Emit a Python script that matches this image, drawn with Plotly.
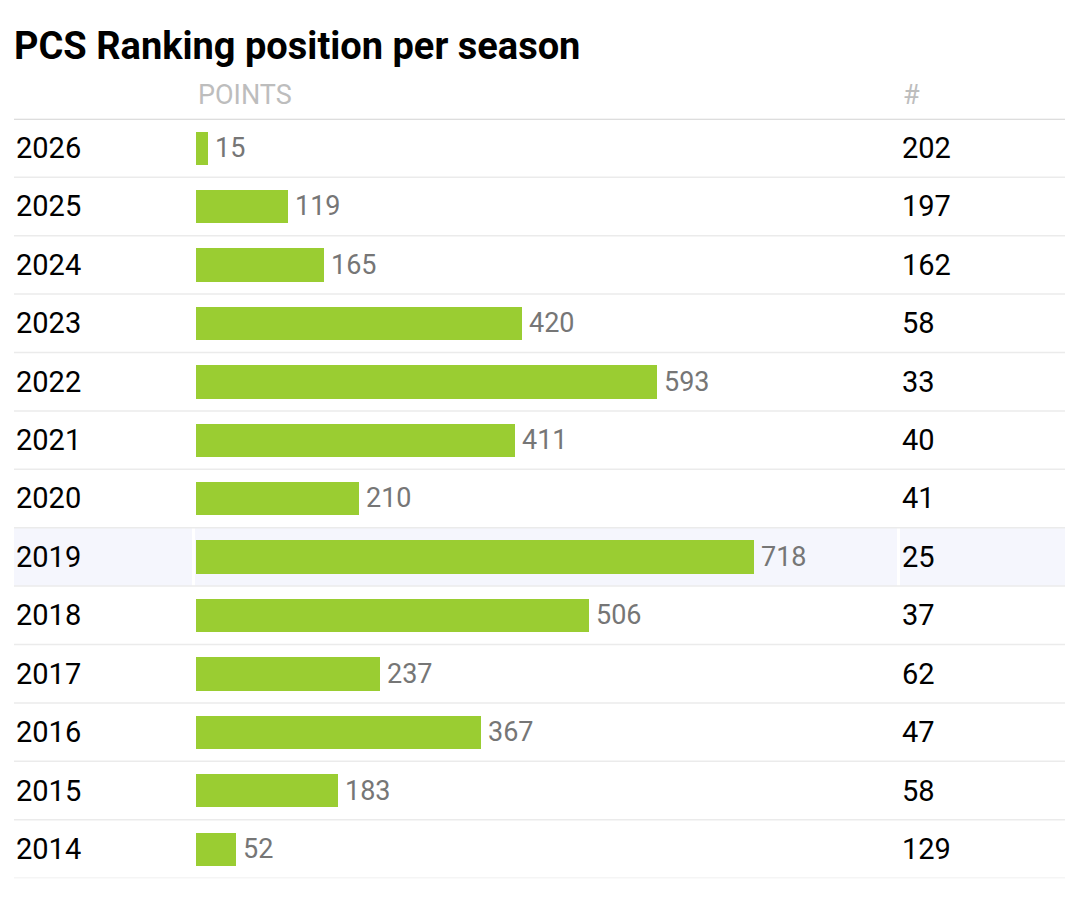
import plotly.graph_objects as go

seasons = ["2026", "2025", "2024", "2023", "2022", "2021", "2020",
           "2019", "2018", "2017", "2016", "2015", "2014"]
points = [15, 119, 165, 420, 593, 411, 210, 718, 506, 237, 367, 183, 52]
ranks = [202, 197, 162, 58, 33, 40, 41, 25, 37, 62, 47, 58, 129]
highlight_season = "2019"

OFF = 8  # page body margin
W, H = 1080 - 2 * OFF, 903 - 2 * OFF
FONT = "Roboto"

def px(x):
    return (x - OFF) / W

def py(y):
    return 1 - (y - OFF) / H

fig = go.Figure()
fig.add_trace(go.Bar(
    x=points, y=list(range(len(seasons))), orientation="h",
    marker=dict(color="#9acd32", line=dict(width=0)),
    width=0.57, hoverinfo="skip",
))

shapes = []
n = len(seasons)
hi = seasons.index(highlight_season)
for x0, x1 in [(14, 192), (195, 897), (900, 1065)]:
    shapes.append(dict(type="rect", xref="paper", yref="y",
                       x0=px(x0), x1=px(x1), y0=hi - 0.5, y1=hi + 0.5,
                       fillcolor="#f5f6fd", line=dict(width=0), layer="below"))
shapes.append(dict(type="line", xref="paper", yref="y", x0=px(14), x1=px(1065),
                   y0=-0.5, y1=-0.5, line=dict(color="#d2d2d2", width=2)))
for i in range(n):
    shapes.append(dict(type="line", xref="paper", yref="y", x0=px(14), x1=px(1065),
                       y0=i + 0.5, y1=i + 0.5, line=dict(color="#ebebeb", width=1.5),
                       layer="below"))

annotations = [
    dict(text="<b>PCS Ranking position per season</b>", xref="paper", yref="paper",
         x=px(12), y=py(46), xanchor="left", yanchor="middle", showarrow=False,
         font=dict(family=FONT, size=38, color="#000000")),
    dict(text="POINTS", xref="paper", yref="paper", x=px(196), y=py(95),
         xanchor="left", yanchor="middle", showarrow=False,
         font=dict(family=FONT, size=27, color="#bdbdbd")),
    dict(text="#", xref="paper", yref="paper", x=px(901), y=py(95),
         xanchor="left", yanchor="middle", showarrow=False,
         font=dict(family=FONT, size=27, color="#bdbdbd")),
]
for i, (s, r, p) in enumerate(zip(seasons, ranks, points)):
    annotations.append(dict(text=s, xref="paper", yref="y", x=px(14), y=i,
                            xanchor="left", yanchor="middle", showarrow=False,
                            font=dict(family=FONT, size=29, color="#000000")))
    annotations.append(dict(text=str(r), xref="paper", yref="y", x=px(900), y=i,
                            xanchor="left", yanchor="middle", showarrow=False,
                            font=dict(family=FONT, size=29, color="#000000")))
    annotations.append(dict(text=str(p), xref="x", yref="y", x=p, y=i,
                            xanchor="left", yanchor="middle", xshift=5,
                            showarrow=False,
                            font=dict(family=FONT, size=27, color="#767676")))

x_range_max = (1065 - 196) / 0.7772
fig.update_layout(
    width=W, height=H,
    margin=dict(l=0, r=0, t=0, b=0),
    paper_bgcolor="white", plot_bgcolor="rgba(0,0,0,0)",
    showlegend=False,
    xaxis=dict(domain=[px(196), px(1065)], range=[0, x_range_max],
               visible=False, fixedrange=True),
    yaxis=dict(domain=[py(878.2), py(118.8)],
               range=[n - 0.5, -0.5], visible=False, fixedrange=True),
    shapes=shapes, annotations=annotations,
    bargap=0,
)
fig.write_html("out.html", config={"displayModeBar": False})
